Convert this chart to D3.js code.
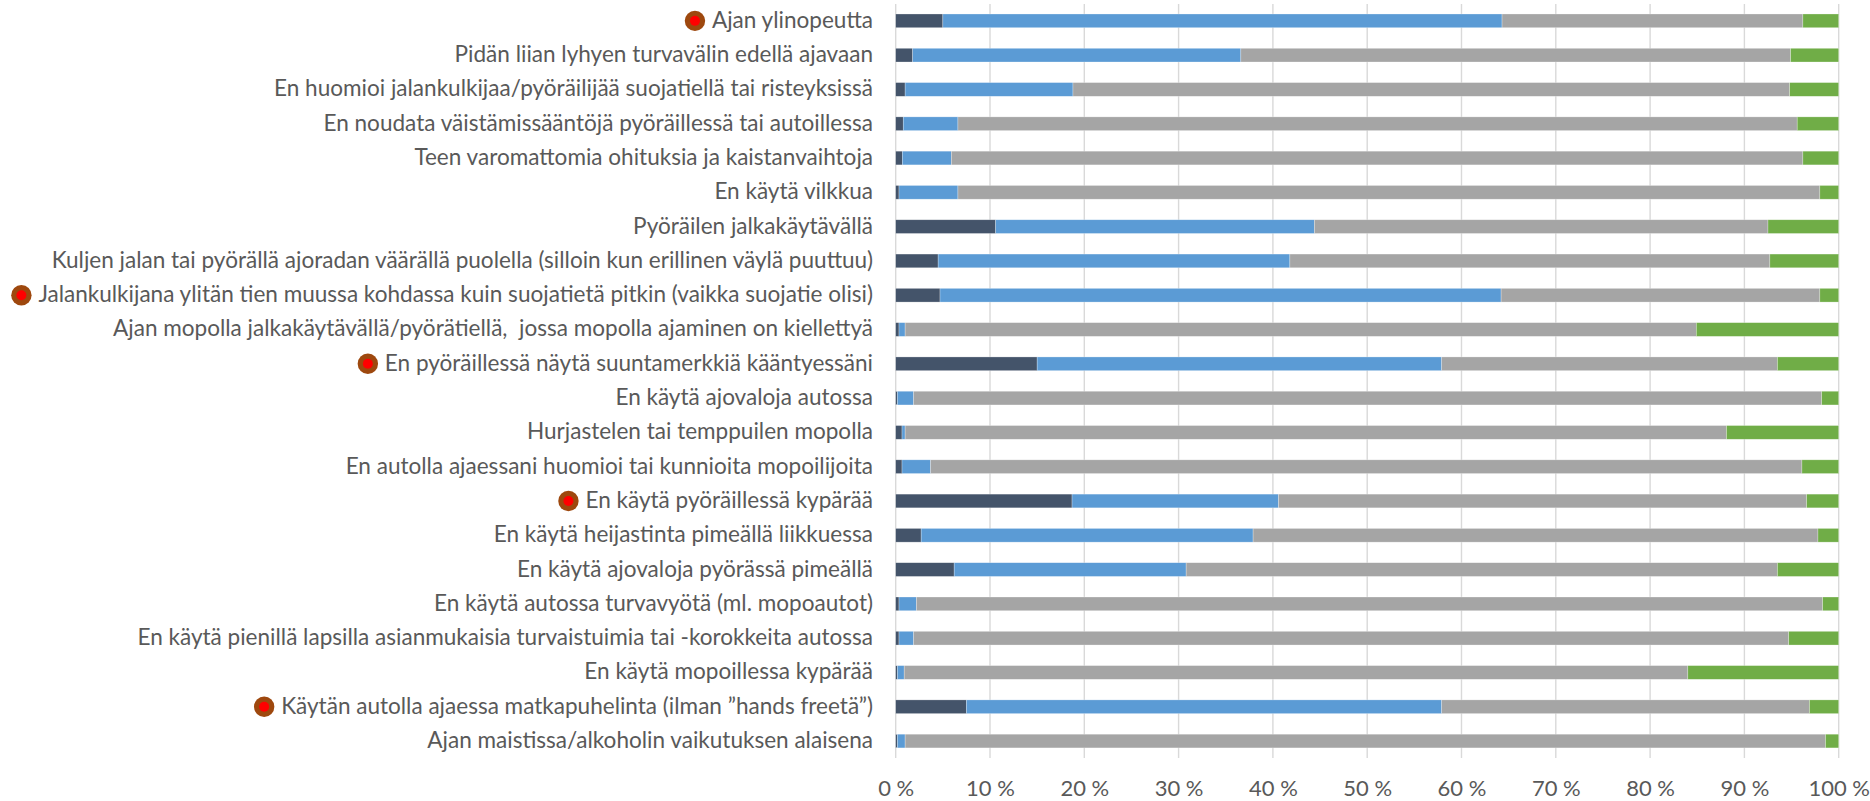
<!DOCTYPE html>
<html><head><meta charset="utf-8">
<script src="https://cdn.jsdelivr.net/npm/d3@7/dist/d3.min.js"></script>
<style>html,body{margin:0;padding:0;background:#fff;overflow:hidden}svg{display:block}</style>
</head><body><svg id="c" width="1870" height="801"></svg>
<script>
const categories = [
"Ajan ylinopeutta","Pidän liian lyhyen turvavälin edellä ajavaan",
"En huomioi jalankulkijaa/pyöräilijää suojatiellä tai risteyksissä",
"En noudata väistämissääntöjä pyöräillessä tai autoillessa",
"Teen varomattomia ohituksia ja kaistanvaihtoja","En käytä vilkkua","Pyöräilen jalkakäytävällä",
"Kuljen jalan tai pyörällä ajoradan väärällä puolella (silloin kun erillinen väylä puuttuu)",
"Jalankulkijana ylitän tien muussa kohdassa kuin suojatietä pitkin (vaikka suojatie olisi)",
"Ajan mopolla jalkakäytävällä/pyörätiellä,  jossa mopolla ajaminen on kiellettyä",
"En pyöräillessä näytä suuntamerkkiä kääntyessäni","En käytä ajovaloja autossa",
"Hurjastelen tai temppuilen mopolla","En autolla ajaessani huomioi tai kunnioita mopoilijoita",
"En käytä pyöräillessä kypärää","En käytä heijastinta pimeällä liikkuessa",
"En käytä ajovaloja pyörässä pimeällä","En käytä autossa turvavyötä (ml. mopoautot)",
"En käytä pienillä lapsilla asianmukaisia turvaistuimia tai -korokkeita autossa",
"En käytä mopoillessa kypärää","Käytän autolla ajaessa matkapuhelinta (ilman ”hands freetä”)",
"Ajan maistissa/alkoholin vaikutuksen alaisena"];
const flagged = ["Ajan ylinopeutta",
"Jalankulkijana ylitän tien muussa kohdassa kuin suojatietä pitkin (vaikka suojatie olisi)",
"En pyöräillessä näytä suuntamerkkiä kääntyessäni","En käytä pyöräillessä kypärää",
"Käytän autolla ajaessa matkapuhelinta (ilman ”hands freetä”)"];
const seriesA = [5.0,1.8,1.0,0.8,0.7,0.35,10.6,4.5,4.7,0.35,15.0,0.18,0.67,0.67,18.7,2.7,6.2,0.35,0.35,0.18,7.5,0.18];
const seriesB = [59.3,34.8,17.8,5.8,5.2,6.25,33.8,37.3,59.5,0.65,42.9,1.72,0.33,3.03,21.9,35.2,24.6,1.85,1.55,0.72,50.4,0.82];
const seriesC = [31.9,58.3,76.0,89.0,90.3,91.4,48.1,50.9,33.8,83.9,35.6,96.3,87.1,92.4,56.0,59.9,62.7,96.1,92.8,83.1,39.0,97.6];
const seriesD = [3.8,5.1,5.2,4.4,3.8,2.0,7.5,7.3,2.0,15.1,6.5,1.8,11.9,3.9,3.4,2.2,6.5,1.7,5.3,16.0,3.1,1.4];
const seriesKeys = ["a","b","c","d"];
const seriesColors = ["#44546A","#5B9BD5","#A5A5A5","#70AD47"];
const tickValues = [0,10,20,30,40,50,60,70,80,90,100];

const svg = d3.select("#c");
const x = d3.scaleLinear().domain([0,100]).range([895.7,1838.7]);
const y = d3.scaleBand().domain(categories).range([3.7,758.2]).paddingInner(0.6).paddingOuter(0.3);
const rows = categories.map((c,i)=>({cat:c,a:seriesA[i],b:seriesB[i],c:seriesC[i],d:seriesD[i]}));
const stack = d3.stack().keys(seriesKeys)(rows);

svg.append("g").selectAll("line").data(tickValues).join("line")
  .attr("x1",d=>x(d)).attr("x2",d=>x(d)).attr("y1",4).attr("y2",758)
  .attr("stroke","#D9D9D9").attr("stroke-width",1.4);

svg.append("g").selectAll("g").data(stack).join("g")
  .attr("fill",(d,i)=>seriesColors[i])
  .selectAll("rect").data(d=>d).join("rect")
  .attr("x",d=>x(d[0])).attr("width",d=>x(d[1])-x(d[0]))
  .attr("y",d=>y(d.data.cat)).attr("height",y.bandwidth())
  .attr("stroke","#fff").attr("stroke-opacity",0.45).attr("stroke-width",0.6);

const ax = svg.append("g").attr("transform","translate(0,758)")
  .call(d3.axisBottom(x).tickValues(tickValues).tickSize(0).tickPadding(0).tickFormat(d=>d+" %"));
ax.select(".domain").remove();
ax.selectAll("text").attr("y",32).attr("dy",0).attr("dominant-baseline","middle")
  .attr("font-family","Lato").attr("font-size",22).attr("fill","#595959");

const labelRight = 873, sx = 0.96;
const lab = svg.append("g").selectAll("text").data(categories).join("text")
  .attr("transform",d=>`translate(${labelRight},${y(d)+y.bandwidth()/2+1}) scale(${sx},1)`)
  .attr("text-anchor","end").attr("dominant-baseline","middle")
  .style("white-space","pre")
  .attr("font-family","Lato").attr("font-size",23.5).attr("fill","#595959").text(d=>d);

const w = new Map();
lab.each(function(d){w.set(d,this.getComputedTextLength()*sx);});
const m = svg.append("g").selectAll("g").data(flagged).join("g")
  .attr("transform",d=>`translate(${labelRight-w.get(d)-17},${y(d)+y.bandwidth()/2})`);
m.append("circle").attr("r",10.2).attr("fill","#9E480E");
m.append("circle").attr("r",5).attr("fill","#FF0000");
</script></body></html>
